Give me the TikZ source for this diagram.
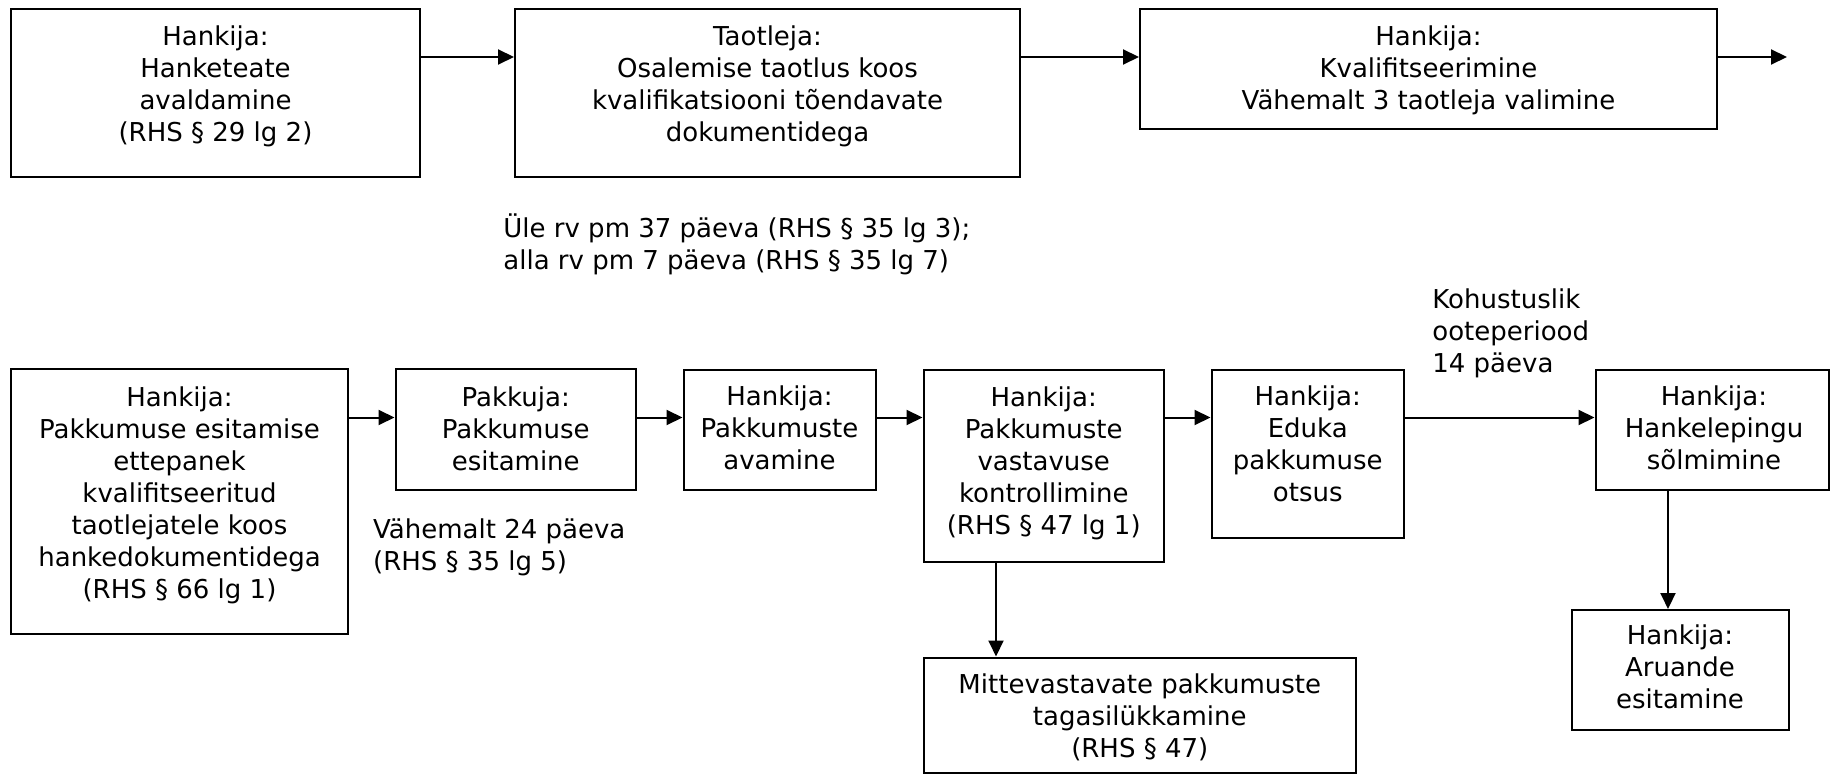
\documentclass[tikz,border=0pt]{standalone}
\usepackage{fontspec}
\setmainfont{DejaVu Sans}
\usetikzlibrary{arrows.meta}
\begin{document}
\begin{tikzpicture}[x=0.5pt,y=-0.5pt,
 box/.style={draw, line width=1pt, inner sep=0pt, rectangle},
 txt/.style={inner sep=0pt, align=center, font=\fontsize{13}{16}\selectfont, execute at begin node=\strut, execute at end node=\strut},
 lbl/.style={txt, align=left, anchor=west},
 arr/.style={line width=1pt, -{Triangle[length=8pt,width=7.5pt]}}]
\useasboundingbox (0,0) rectangle (1831,775);
% boxes
\node[box, minimum width=204.5pt, minimum height=84pt] (b1) at (215.5,93) {};
\node[box, minimum width=252.5pt, minimum height=84pt] (b2) at (767.5,93) {};
\node[box, minimum width=288.5pt, minimum height=60pt] (b3) at (1428.5,69) {};
\node[box, minimum width=168.5pt, minimum height=132.5pt] (b4) at (179.5,501.5) {};
\node[box, minimum width=120.25pt, minimum height=60.25pt] (b5) at (515.75,429.25) {};
\node[box, minimum width=96pt, minimum height=60pt] (b6) at (779.5,429.5) {};
\node[box, minimum width=120.25pt, minimum height=96pt] (b7) at (1043.75,465.5) {};
\node[box, minimum width=96.25pt, minimum height=84pt] (b8) at (1307.75,453.5) {};
\node[box, minimum width=116.75pt, minimum height=60pt] (b9) at (1712.25,429.5) {};
\node[box, minimum width=108.5pt, minimum height=60pt] (b10) at (1680,670) {};
\node[box, minimum width=216.25pt, minimum height=57.75pt] (b11) at (1139.75,715.25) {};
% texts
\node[txt] (t1) at (215.5,88.4) {Hankija:\\Hanketeate\\avaldamine\\(RHS § 29 lg 2)};
\node[txt] (t2) at (767.5,88.4) {Taotleja:\\Osalemise taotlus koos\\kvalifikatsiooni tõendavate\\dokumentidega};
\node[txt] (t3) at (1428.5,72) {Hankija:\\Kvalifitseerimine\\Vähemalt 3 taotleja valimine};
\node[lbl] (l1) at (503,246.6) {Üle rv pm 37 päeva (RHS § 35 lg 3);\\alla rv pm 7 päeva (RHS § 35 lg 7)};
\node[txt] (t4) at (179.5,497.6) {Hankija:\\Pakkumuse esitamise\\ettepanek\\kvalifitseeritud\\taotlejatele koos\\hankedokumentidega\\(RHS § 66 lg 1)};
\node[txt] (t5) at (515.75,433) {Pakkuja:\\Pakkumuse\\esitamine};
\node[lbl] (l2) at (372.8,549.6) {Vähemalt 24 päeva\\(RHS § 35 lg 5)};
\node[txt] (t6) at (779.5,432.6) {Hankija:\\Pakkumuste\\avamine};
\node[txt] (t7) at (1043.75,465.4) {Hankija:\\Pakkumuste\\vastavuse\\kontrollimine\\(RHS § 47 lg 1)};
\node[txt] (t8) at (1307.75,448.8) {Hankija:\\Eduka\\pakkumuse\\otsus};
\node[lbl] (l3) at (1432,335.4) {Kohustuslik\\ooteperiood\\14 päeva};
\node[txt] (t9) at (1714,432) {Hankija:\\Hankelepingu\\sõlmimine};
\node[txt] (t10) at (1680,671.6) {Hankija:\\Aruande\\esitamine};
\node[txt] (t11) at (1139.75,720.4) {Mittevastavate pakkumuste\\tagasilükkamine\\(RHS § 47)};
% helper coordinates
\coordinate (r1) at (0,57);
\coordinate (r2) at (0,417.5);
\coordinate (c7) at (996,0);
\coordinate (c9) at (1668,0);
\coordinate (e1) at (1787,57);
% connectors
\draw[arr] (b1.east |- r1) -- (b2.west |- r1);
\draw[arr] (b2.east |- r1) -- (b3.west |- r1);
\draw[arr] (b3.east |- r1) -- (e1);
\draw[arr] (b4.east |- r2) -- (b5.west |- r2);
\draw[arr] (b5.east |- r2) -- (b6.west |- r2);
\draw[arr] (b6.east |- r2) -- (b7.west |- r2);
\draw[arr] (b7.east |- r2) -- (b8.west |- r2);
\draw[arr] (b8.east |- r2) -- (b9.west |- r2);
\draw[arr] (b7.south -| c7) -- (b11.north -| c7);
\draw[arr] (b9.south -| c9) -- (b10.north -| c9);
\end{tikzpicture}
\end{document}
